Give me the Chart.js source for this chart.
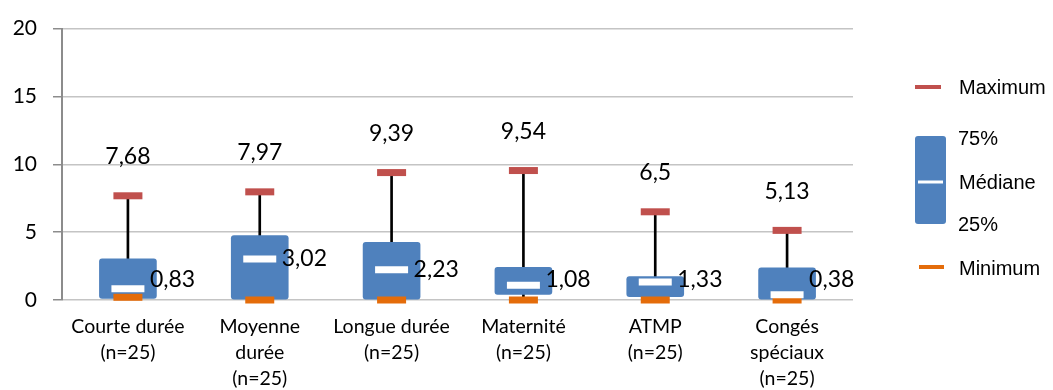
<!DOCTYPE html>
<html>
<head>
<meta charset="utf-8">
<script src="https://cdn.jsdelivr.net/npm/chart.js@4"></script>
<style>
    body { margin: 0; background: #fff; }
    #chart_container { position: relative; width: 1053px; height: 390px; }
</style>
</head>
<body>
<div id="chart_container"><canvas id="box_chart" width="1053" height="390"></canvas></div>
<script>
// Data

const categories = [
    ['Courte durée', '(n=25)'],
    ['Moyenne', 'durée', '(n=25)'],
    ['Longue durée', '(n=25)'],
    ['Maternité', '(n=25)'],
    ['ATMP', '(n=25)'],
    ['Congés', 'spéciaux', '(n=25)']
];
const minValues = [0.2, 0, 0, 0, 0, 0];
const q1Values = [0.12, 0, 0, 0.42, 0.24, 0];
const medianValues = [0.83, 3.02, 2.23, 1.08, 1.33, 0.38];
const q3Values = [3.03, 4.75, 4.25, 2.4, 1.73, 2.37];
const maxValues = [7.68, 7.97, 9.39, 9.54, 6.5, 5.13];
const yTicks = [0, 5, 10, 15, 20];

const boxColor = '#4f81bd';
const maxColor = '#c0504d';
const minColor = '#e46c0a';

const frNumber = function(v) {
    return String(v).replace('.', ',');
}

// Labels above max and beside median

const valueLabels = {
    id: 'valueLabels',
    afterDatasetsDraw(chart) {
        const ctx = chart.ctx;
        const x = chart.scales.x;
        const y = chart.scales.y;
        ctx.save();
        ctx.fillStyle = '#000';
        ctx.font = '23px Lato';
        ctx.textBaseline = 'middle';
        categories.forEach((c, i) => {
            const cx = x.getPixelForValue(i);
            ctx.textAlign = 'center';
            ctx.fillText(frNumber(maxValues[i]), cx, y.getPixelForValue(maxValues[i]) - 39);
            ctx.textAlign = 'left';
            const my = Math.min(y.getPixelForValue(medianValues[i]), 280);
            ctx.fillText(frNumber(medianValues[i]), cx + 22, my);
        });
        ctx.restore();
    }
}

// Legend drawn by hand on the right side

const boxLegend = {
    id: 'boxLegend',
    afterDraw(chart) {
        const ctx = chart.ctx;
        ctx.save();
        ctx.lineCap = 'butt';

        ctx.strokeStyle = maxColor;
        ctx.lineWidth = 4;
        ctx.beginPath(); ctx.moveTo(915, 87); ctx.lineTo(941, 87); ctx.stroke();

        ctx.fillStyle = boxColor;
        ctx.beginPath();
        ctx.roundRect(915, 136, 31, 88, 3);
        ctx.fill();
        ctx.strokeStyle = '#fff';
        ctx.lineWidth = 3;
        ctx.beginPath(); ctx.moveTo(918, 182); ctx.lineTo(943, 182); ctx.stroke();

        ctx.strokeStyle = minColor;
        ctx.lineWidth = 4;
        ctx.beginPath(); ctx.moveTo(919, 267); ctx.lineTo(944, 267); ctx.stroke();

        ctx.fillStyle = '#000';
        ctx.font = '20px "Liberation Sans", Arial';
        ctx.textAlign = 'left';
        ctx.textBaseline = 'middle';
        ctx.fillText('Maximum', 959, 88);
        ctx.fillText('75%', 958, 139);
        ctx.fillText('Médiane', 959, 183);
        ctx.fillText('25%', 958, 225);
        ctx.fillText('Minimum', 959, 269);
        ctx.restore();
    }
}

const ctx = document.getElementById('box_chart').getContext('2d');
const boxChart = new Chart(ctx, {
    type: 'bar',
    data: {
        labels: categories,
        datasets: [
            {
                label: 'Whisker',
                data: categories.map((c, i) => [minValues[i], maxValues[i]]),
                backgroundColor: '#000',
                barThickness: 2,
                grouped: false,
                order: 5
            },
            {
                label: 'Box',
                data: categories.map((c, i) => [q1Values[i], q3Values[i]]),
                backgroundColor: boxColor,
                barThickness: 57,
                borderRadius: 3,
                borderSkipped: false,
                grouped: false,
                clip: false,
                order: 4
            },
            {
                type: 'line',
                label: 'Minimum',
                data: minValues,
                showLine: false,
                pointStyle: 'line',
                pointRadius: 14.5,
                pointBorderWidth: 7,
                pointBorderColor: minColor,
                clip: false,
                order: 3
            },
            {
                type: 'line',
                label: 'Médiane',
                data: medianValues,
                showLine: false,
                pointStyle: 'line',
                pointRadius: 16.5,
                pointBorderWidth: 7,
                pointBorderColor: '#fff',
                clip: false,
                order: 2
            },
            {
                type: 'line',
                label: 'Maximum',
                data: maxValues,
                showLine: false,
                pointStyle: 'line',
                pointRadius: 14.5,
                pointBorderWidth: 7,
                pointBorderColor: maxColor,
                clip: false,
                order: 1
            }
        ]
    },
    options: {
        responsive: false,
        animation: false,
        layout: { padding: { top: 23, right: 200, left: 0, bottom: 0 } },
        plugins: {
            legend: { display: false },
            tooltip: { enabled: false }
        },
        scales: {
            x: {
                grid: { display: false, drawTicks: false },
                border: { display: false },
                ticks: {
                    color: '#000',
                    padding: 14,
                    maxRotation: 0,
                    autoSkip: false,
                    font: { family: 'Lato', size: 19.5, lineHeight: '26px' }
                },
                afterFit: s => { s.height = 90; }
            },
            y: {
                min: 0,
                max: 20,
                afterBuildTicks: s => { s.ticks = yTicks.map(v => ({ value: v })); },
                grid: { color: '#c4c4c4', lineWidth: 1.5, tickColor: '#8c8c8c', tickLength: 9 },
                border: { color: '#8c8c8c', width: 2 },
                ticks: {
                    color: '#000',
                    padding: 16,
                    font: { family: 'Lato', size: 21 }
                },
                afterFit: s => { s.width = 62; }
            }
        }
    },
    plugins: [valueLabels, boxLegend]
});
</script>
</body>
</html>
